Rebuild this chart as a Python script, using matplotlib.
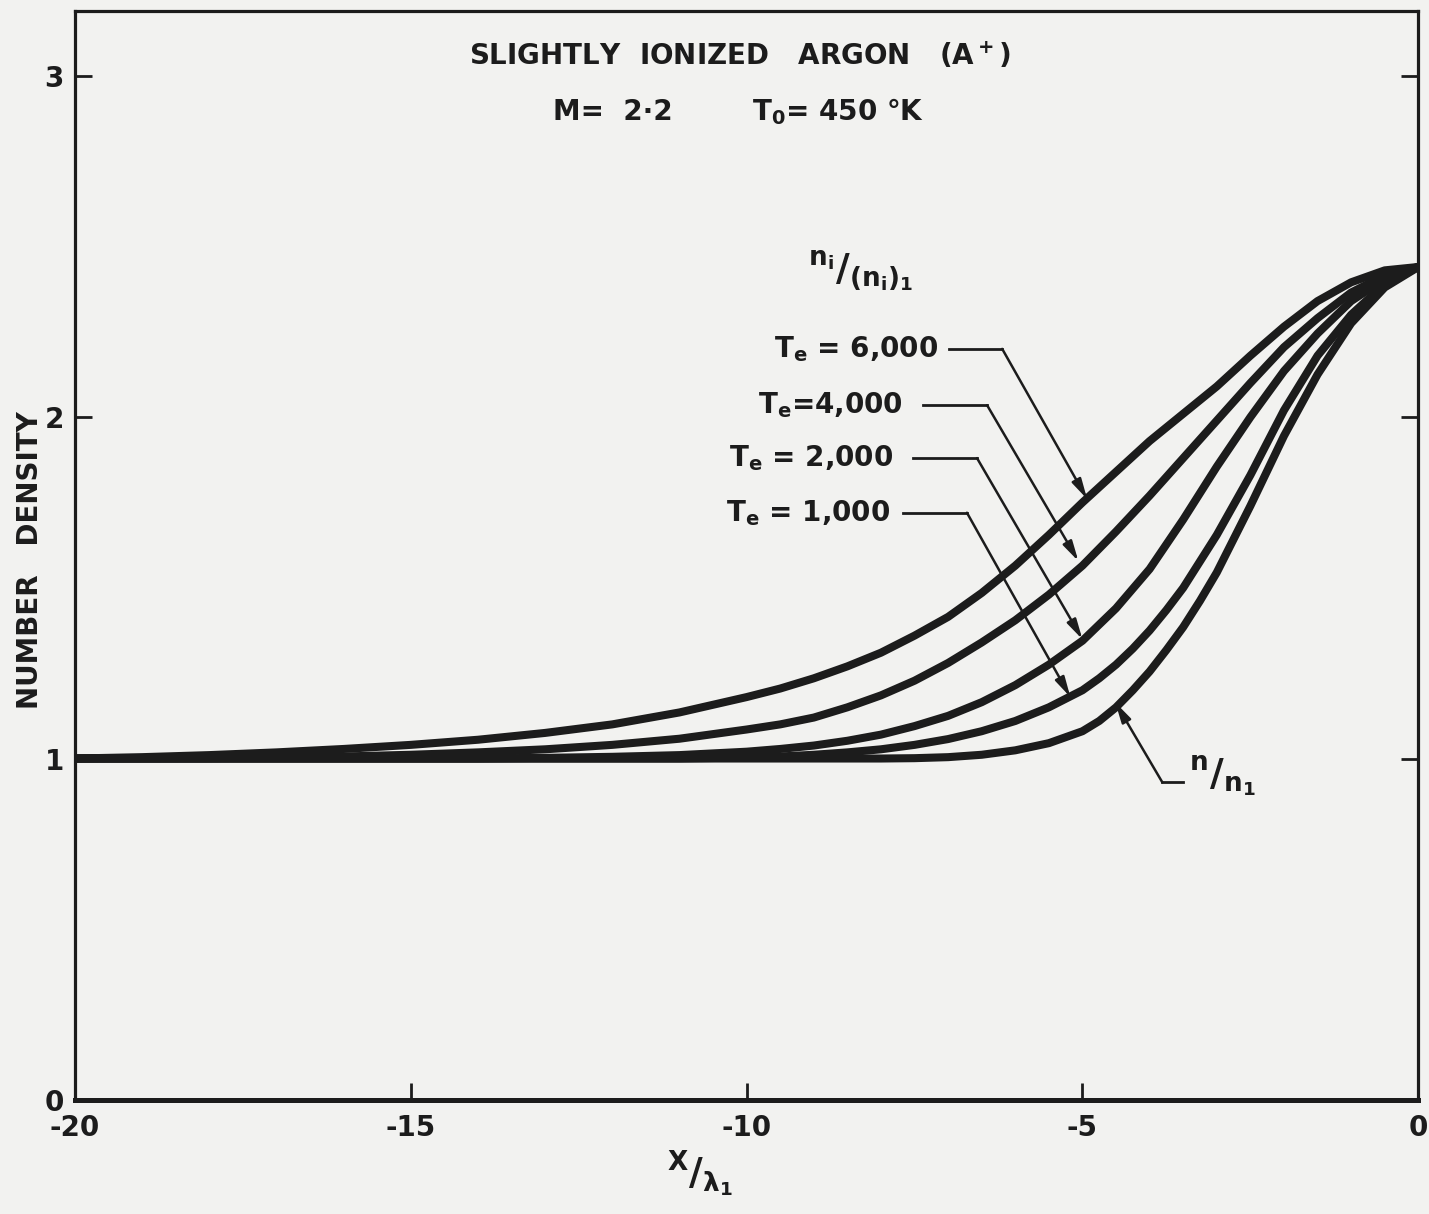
import matplotlib
matplotlib.use('Agg')
import matplotlib.pyplot as plt

plt.rcParams['font.family'] = ['DejaVu Sans']
plt.rcParams['font.weight'] = 'bold'
plt.rcParams['axes.unicode_minus'] = False
plt.rcParams['mathtext.fontset'] = 'custom'
plt.rcParams['mathtext.rm'] = 'DejaVu Sans:bold'
plt.rcParams['mathtext.it'] = 'DejaVu Sans:bold'
plt.rcParams['mathtext.bf'] = 'DejaVu Sans:bold'

# curves (x / lambda_1, number density)
x_6000 = [-20, -19, -18, -17, -16, -15, -14, -13, -12, -11, -10, -9.5, -9, -8.5, -8, -7.5, -7,
          -6.5, -6, -5.5, -5, -4.5, -4, -3.5, -3, -2.5, -2, -1.5, -1, -0.5, 0]
n_6000 = [1.000, 1.004, 1.010, 1.018, 1.028, 1.040, 1.055, 1.075, 1.100, 1.135, 1.180, 1.205,
          1.235, 1.270, 1.310, 1.360, 1.415, 1.485, 1.565, 1.655, 1.750, 1.840, 1.930, 2.010,
          2.090, 2.180, 2.265, 2.340, 2.395, 2.430, 2.440]

x_4000 = [-20, -18, -17, -16, -15, -14, -13, -12, -11, -10, -9.5, -9, -8.5, -8, -7.5, -7,
          -6.5, -6, -5.5, -5, -4.5, -4, -3.5, -3, -2.5, -2, -1.5, -1, -0.5, 0]
n_4000 = [1.000, 1.001, 1.003, 1.006, 1.011, 1.018, 1.027, 1.040, 1.058, 1.085, 1.100, 1.120,
          1.150, 1.185, 1.228, 1.280, 1.340, 1.405, 1.480, 1.565, 1.665, 1.770, 1.880, 1.990,
          2.100, 2.205, 2.290, 2.365, 2.415, 2.440]

x_2000 = [-20, -14, -13, -12, -11, -10, -9.5, -9, -8.5, -8, -7.5, -7, -6.5, -6, -5.5, -5,
          -4.5, -4, -3.5, -3, -2.5, -2, -1.5, -1, -0.5, 0]
n_2000 = [1.000, 1.000, 1.002, 1.005, 1.010, 1.020, 1.028, 1.038, 1.052, 1.070, 1.095, 1.125,
          1.165, 1.215, 1.275, 1.345, 1.440, 1.555, 1.700, 1.855, 2.000, 2.135, 2.245, 2.340,
          2.405, 2.440]

x_1000 = [-20, -11, -10, -9.5, -9, -8.5, -8, -7.5, -7, -6.5, -6, -5.5, -5, -4.75, -4.5, -4.25,
          -4, -3.75, -3.5, -3, -2.5, -2, -1.5, -1, -0.5, 0]
n_1000 = [1.000, 1.000, 1.003, 1.006, 1.011, 1.018, 1.027, 1.040, 1.057, 1.080, 1.110, 1.150,
          1.200, 1.235, 1.275, 1.322, 1.375, 1.435, 1.500, 1.655, 1.830, 2.020, 2.180, 2.300,
          2.390, 2.440]

x_n = [-20, -8, -7.5, -7, -6.5, -6, -5.5, -5, -4.75, -4.5, -4.25, -4, -3.75, -3.5, -3.25, -3,
       -2.5, -2, -1.5, -1, -0.5, 0]
n_n = [1.000, 1.000, 1.001, 1.004, 1.011, 1.024, 1.045, 1.080, 1.110, 1.150, 1.200, 1.255,
       1.318, 1.385, 1.462, 1.545, 1.740, 1.945, 2.125, 2.275, 2.380, 2.440]

x_ticks = [-20, -15, -10, -5, 0]
y_ticks = [0, 1, 2, 3]

ink = '#1c1c1c'
paper = '#f2f2f0'

fig = plt.figure(figsize=(14.29, 12.14), dpi=100, facecolor=paper)
ax = fig.add_axes([0.0525, 0.094, 0.94, 0.897])
ax.set_facecolor(paper)

for xs, ys in [(x_6000, n_6000), (x_4000, n_4000), (x_2000, n_2000),
               (x_1000, n_1000), (x_n, n_n)]:
    ax.plot(xs, ys, color=ink, lw=5.8, solid_capstyle='round', solid_joinstyle='round')

ax.set_xlim(-20, 0)
ax.set_ylim(0, 3.19)
ax.set_xticks(x_ticks)
ax.set_yticks(y_ticks)
ax.set_xticklabels([str(v) for v in x_ticks])
ax.set_yticklabels([str(v) for v in y_ticks])
ax.tick_params(axis='x', direction='in', length=12, width=2, pad=10, labelsize=20, colors=ink)
ax.tick_params(axis='y', direction='in', length=12, width=2, pad=8, labelsize=20,
               colors=ink, right=True)
for s in ['left', 'right', 'top']:
    ax.spines[s].set_linewidth(2.3)
    ax.spines[s].set_color(ink)
ax.spines['bottom'].set_linewidth(3.6)
ax.spines['bottom'].set_color(ink)

# titles
ax.text(-10.1, 3.06, 'SLIGHTLY  IONIZED   ARGON   (A$\\mathrm{^+}$)', fontsize=20,
        ha='center', va='center', color=ink)
ax.text(-12.88, 2.894, 'M=  2·2', fontsize=20, ha='left', va='center', color=ink)
ax.text(-9.92, 2.894, 'T$\\mathrm{_0}$= 450 °K', fontsize=20, ha='left', va='center', color=ink)

# legend header
ax.text(-8.31, 2.43, r'$\mathrm{^{n_i}/_{(n_i)_1}}$', fontsize=27, ha='center',
        va='center', color=ink)

# leader labels
labels = [('T$\\mathrm{_e}$ = 6,000', -7.15, 2.20, -6.98, -6.195, -4.93, 1.76),
          ('T$\\mathrm{_e}$=4,000', -7.67, 2.035, -7.37, -6.42, -5.06, 1.578),
          ('T$\\mathrm{_e}$ = 2,000', -7.82, 1.88, -7.52, -6.57, -5.0, 1.349),
          ('T$\\mathrm{_e}$ = 1,000', -7.86, 1.72, -7.67, -6.72, -5.18, 1.18)]
for txt, tx, ty, l0, l1, ax_, ay_ in labels:
    ax.text(tx, ty, txt, fontsize=20, ha='right', va='center', color=ink)
    ax.plot([l0, l1], [ty, ty], color=ink, lw=2)
    ax.annotate('', xy=(ax_, ay_), xytext=(l1, ty),
                arrowprops=dict(arrowstyle='-|>,head_length=1.2,head_width=0.3',
                                color=ink, lw=1.8, shrinkA=0, shrinkB=0))

# n/n1 label
ax.plot([-3.51, -3.81], [0.93, 0.93], color=ink, lw=2)
ax.annotate('', xy=(-4.51, 1.164), xytext=(-3.81, 0.93),
            arrowprops=dict(arrowstyle='-|>,head_length=1.2,head_width=0.3',
                            color=ink, lw=1.8, shrinkA=0, shrinkB=0))
ax.text(-3.42, 0.95, r'$\mathrm{^{n}/_{n_1}}$', fontsize=27, ha='left',
        va='center', color=ink)

# axis labels
fig.text(30 / 1429, 1 - 560 / 1214, 'NUMBER   DENSITY', rotation=90, fontsize=20,
         ha='center', va='center', color=ink)
fig.text(700 / 1429, 1 - 1174 / 1214, r'$\mathrm{^{X}/_{\lambda_1}}$', fontsize=27,
         ha='center', va='center', color=ink)

fig.savefig('out.png', dpi=100, facecolor=paper)
